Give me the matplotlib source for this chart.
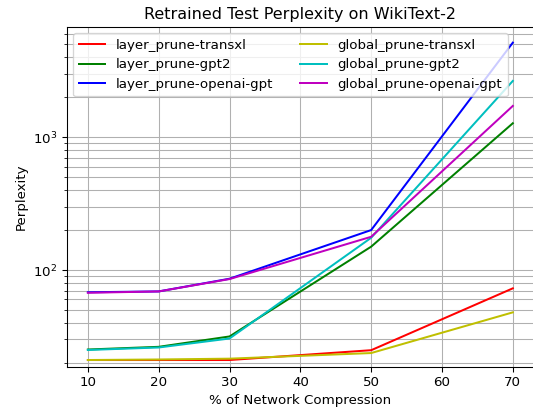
import matplotlib
matplotlib.use('Agg')
import matplotlib.pyplot as plt

compression = [10, 20, 30, 50, 70]
layer_transxl = [21.0, 21.0, 21.0, 24.9, 72.8]
layer_gpt2 = [25.2, 26.4, 31.6, 150, 1275]
layer_openai = [68, 69, 86, 200, 5160]
global_transxl = [21.0, 21.2, 21.5, 23.7, 48]
global_gpt2 = [25.0, 26.1, 30.5, 175, 2656]
global_openai = [67.4, 69, 85.5, 178, 1722]

dpi = 96
fig = plt.figure(figsize=(533 / dpi, 417 / dpi), dpi=dpi)
ax = fig.add_axes([0.125, 0.1206, 0.877, 0.8155])
ax.plot(compression, layer_transxl, 'r', label='layer_prune-transxl')
ax.plot(compression, layer_gpt2, 'g', label='layer_prune-gpt2')
ax.plot(compression, layer_openai, 'b', label='layer_prune-openai-gpt')
ax.plot(compression, global_transxl, 'y', label='global_prune-transxl')
ax.plot(compression, global_gpt2, 'c', label='global_prune-gpt2')
ax.plot(compression, global_openai, 'm', label='global_prune-openai-gpt')
ax.set_yscale('log')
ax.set_ylim(18.7, 6810)
ax.grid(True, which='both')
ax.set_title('Retrained Test Perplexity on WikiText-2')
ax.set_xlabel('% of Network Compression')
ax.set_ylabel('Perplexity')
ax.legend(ncol=2, loc='upper left')
fig.savefig('out.png', dpi=dpi)
